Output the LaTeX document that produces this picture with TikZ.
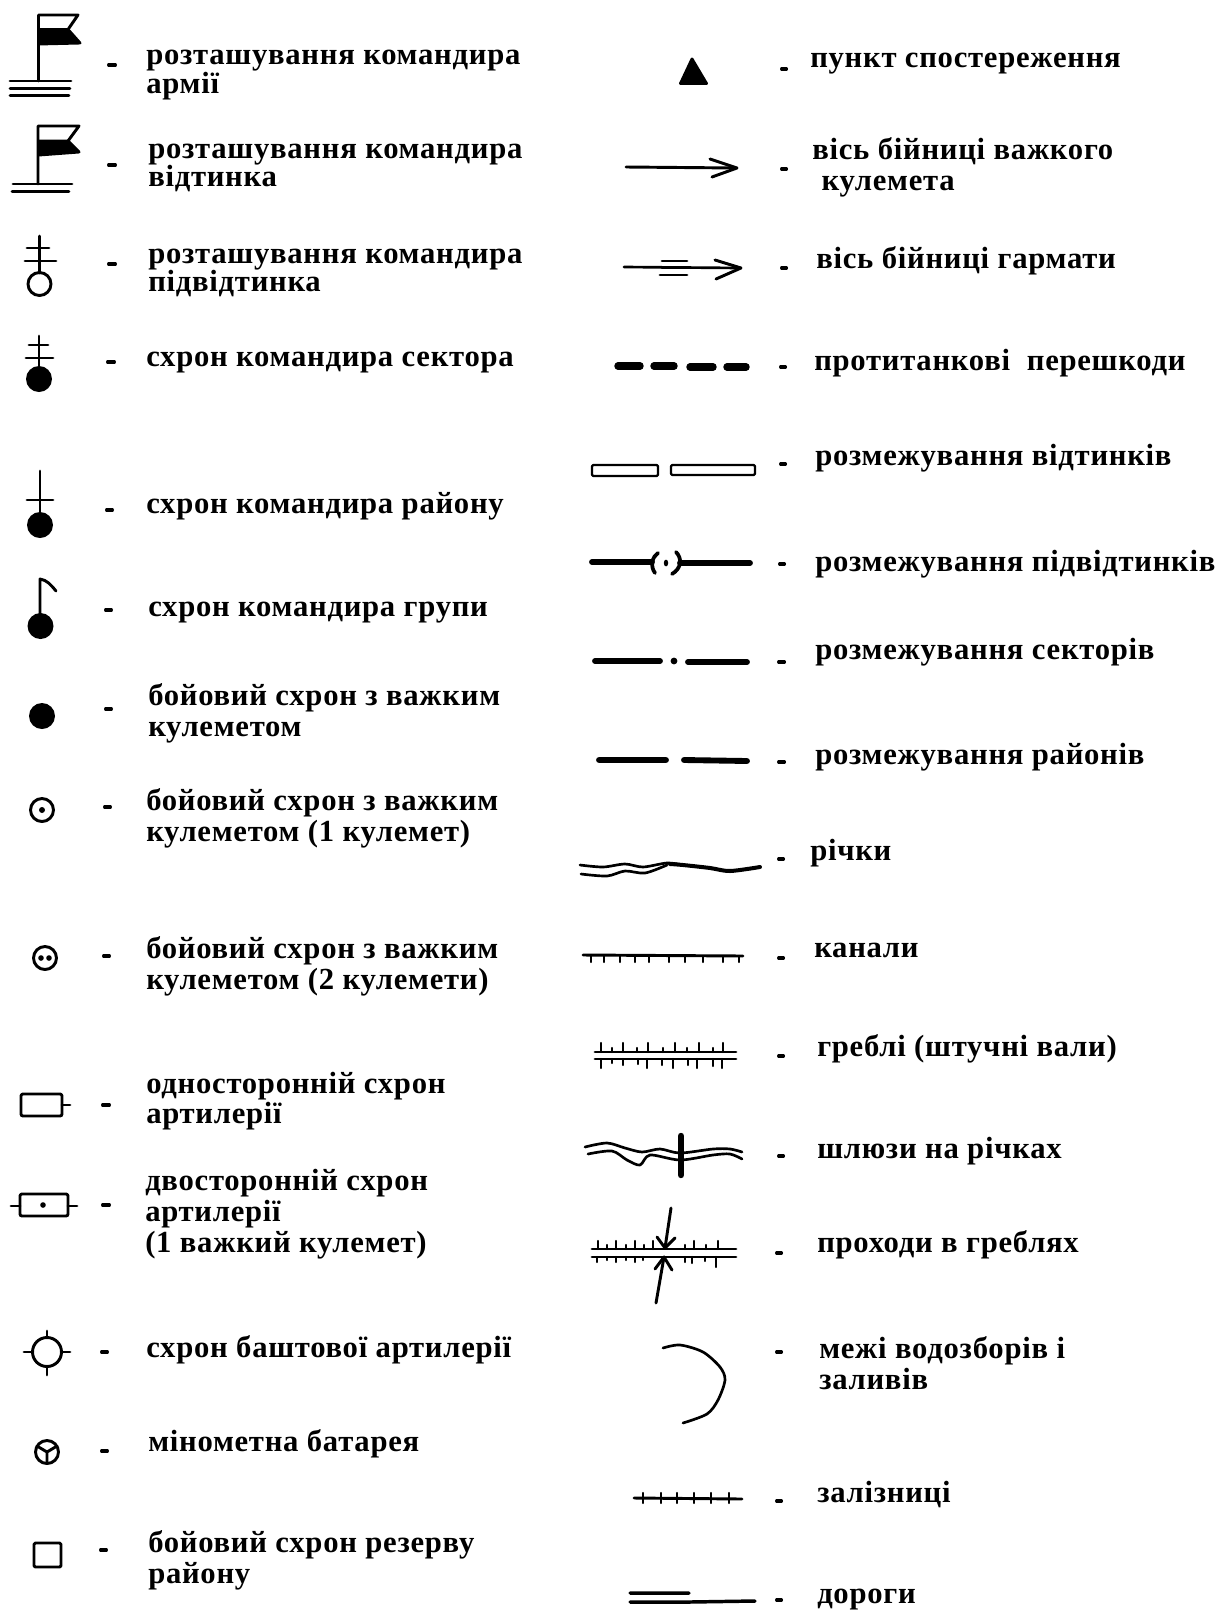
\documentclass[tikz,border=0pt]{standalone}
\usepackage{fontspec}
\setmainfont[LetterSpace=2.4]{Liberation Serif}
\usetikzlibrary{arrows.meta}

\begin{document}
\begin{tikzpicture}[
  x=0.75pt, y=-0.75pt,
  lbl/.style={anchor=west, align=left, inner sep=0pt, font=\bfseries\fontsize{23}{21.6}\selectfont},
  lblwide/.style={lbl, font=\bfseries\fontsize{23}{23}\selectfont},
  sym/.style={line width=2.2pt, line cap=round, line join=round},
  thinsym/.style={line width=1.7pt, line cap=round, line join=round},
  heavy/.style={line width=4.4pt, line cap=round},
  dsh/.style={line width=2.3pt, line cap=round, shorten >=0.4pt, shorten <=0.4pt}
]
\useasboundingbox (0,0) rectangle (1218,1610);

\node[lbl] (army) at (146,75) {розташування командира\\армії};
\node[lbl] (section) at (148,168) {розташування командира\\відтинка};
\node[lbl] (subsection) at (148,273) {розташування командира\\підвідтинка};
\node[lbl] (sector) at (146,363) {схрон командира сектора};
\node[lbl] (district) at (146,506) {схрон командира району};
\node[lbl] (squad) at (148,613) {схрон командира групи};
\node[lblwide] (mg) at (148,713) {бойовий схрон з важким\\кулеметом};
\node[lblwide] (mgone) at (146,818) {бойовий схрон з важким\\кулеметом (1 кулемет)};
\node[lblwide] (mgtwo) at (146,966) {бойовий схрон з важким\\кулеметом (2 кулемети)};
\node[lblwide] (artone) at (146,1101) {односторонній схрон\\артилерії};
\node[lblwide] (arttwo) at (145,1214) {двосторонній схрон\\артилерії\\(1 важкий кулемет)};
\node[lbl] (turret) at (146,1350) {схрон баштової артилерії};
\node[lbl] (mortar) at (148,1444) {мінометна батарея};
\node[lblwide] (reserve) at (148,1560) {бойовий схрон резерву\\району};

\node[lbl] (post) at (810,64) {пункт спостереження};
\node[lblwide] (hmgaxis) at (812,167) {вісь бійниці важкого\\\hspace*{7pt}кулемета};
\node[lbl] (gunaxis) at (816,261) {вісь бійниці гармати};
\node[lbl] (antitank) at (814,363) {протитанкові\ \ перешкоди};
\node[lbl] (bsection) at (815,458) {розмежування відтинків};
\node[lbl] (bsubsection) at (815,564) {розмежування підвідтинків};
\node[lbl] (bsector) at (815,652) {розмежування секторів};
\node[lbl] (bdistrict) at (815,757) {розмежування районів};
\node[lbl] (rivers) at (810,853) {річки};
\node[lbl] (canals) at (814,950) {канали};
\node[lbl] (dams) at (817,1049) {греблі (штучні вали)};
\node[lbl] (locks) at (817,1151) {шлюзи на річках};
\node[lbl] (passes) at (817,1245) {проходи в греблях};
\node[lblwide] (basins) at (819,1363) {межі водозборів і\\заливів};
\node[lbl] (rail) at (817,1495) {залізниці};
\node[lbl] (roads) at (817,1600) {дороги};

\foreach \xa/\xb/\ya in {108/116/65, 108/116/165, 108/116/264, 107/115/362, 106/113/510, 105/112/610,
  105/112/709, 104/111/807, 103/110/956, 102/110/1105, 102/110/1205, 101/108/1352, 101/108/1451, 100/107/1550,
  781/787/69, 781/787/169, 781/787/268, 780/786/367, 780/786/464, 779/785/564, 778/785/662, 778/785/762,
  778/784/859, 778/784/958, 778/784/1056, 778/784/1156, 776/782/1253, 776/782/1352, 776/782/1501, 776/782/1600}
  \draw[dsh] (\xa,\ya) -- (\xb,\ya);

\draw[sym] (38.5,81) -- (38.5,15) -- (78,15) -- (68,29.5);
\fill[sym, draw=black] (39,29.5) -- (68,29.5) -- (80,43) -- (39,44) -- cycle;
\draw[sym] (10,81) -- (71,81) (10,88.5) -- (70,88.5) (10,95.5) -- (69,95.5);

\draw[sym] (38,184) -- (38,126) -- (79,126) -- (68,141);
\fill[sym, draw=black] (39,141) -- (68,141) -- (79,152) -- (39,155) -- cycle;
\draw[sym] (13,184) -- (72,184) (12,191.5) -- (69,191.5);

\draw[sym] (39.5,236) -- (39.5,273) (27,248) -- (49,248) (25,261) -- (56,261);
\draw[sym] (39.5,284) circle [radius=11.5];

\draw[sym] (39,336) -- (39,370) (29,345) -- (48,345) (26,358) -- (53,358);
\fill (39,379) circle [radius=13];

\draw[sym] (40,471) -- (40,518) (27,500) -- (53,500);
\fill (40,525) circle [radius=13];

\draw[sym] (40,619) -- (40,579) .. controls (47,580) and (51,585) .. (56,591);
\fill (40.5,626) circle [radius=13];

\fill (42,716) circle [radius=13];

\draw[sym] (42,810) circle [radius=11.5];
\fill (42,810) circle [radius=3];

\draw[sym] (45,958) circle [radius=11.5];
\fill (41,958) circle [radius=2.8] (49,958) circle [radius=2.8];

\draw[sym, rounded corners=1.5pt] (21,1094) rectangle (62,1116);
\draw[sym] (62,1105) -- (70,1105);

\draw[sym, rounded corners=1.5pt] (20,1194) rectangle (68,1216);
\draw[sym] (11,1206) -- (20,1206) (68,1206) -- (77,1206);
\fill (43,1205) circle [radius=2.8];

\draw[sym] (47,1352) circle [radius=14.5];
\draw[sym] (24,1352) -- (32,1352) (62,1352) -- (70,1352) (47,1331) -- (47,1337) (47,1367) -- (47,1375);

\draw[sym] (47,1452) circle [radius=11.5];
\draw[sym] (47,1452) -- (47,1463.5) (47,1452) -- (37,1446) (47,1452) -- (57,1446);

\draw[sym, rounded corners=1pt] (34,1543) rectangle (61,1567);

\fill[draw=black, sym] (692,59) -- (680.5,83.5) -- (706.5,83.5) -- cycle;

\draw[sym] (626,167) -- (736,168);
\draw[sym] (710,159) -- (737,168) -- (712,177);

\draw[sym, line width=2pt] (624,267) -- (740,268);
\draw[sym] (715,260) -- (741,268) -- (716,279);
\draw[sym] (662,261) -- (687,261) (662,268) -- (687,268) (660,275) -- (687,275);

\draw[heavy, line width=5.6pt] (618,366) -- (640,366) (654,366) -- (674,366) (690,367) -- (713,367) (727,367) -- (746,367);

\draw[thinsym, rounded corners=1pt] (592,465) rectangle (658,476);
\draw[thinsym, rounded corners=1pt] (671,465) rectangle (755,475);

\draw[heavy] (592,562) -- (652,562) (680,563) -- (750,563);
\draw[sym, line width=2.8pt] (658,553) .. controls (652,557) and (650,566) .. (655,573);
\draw[sym, line width=2.8pt] (676,552) .. controls (682,558) and (682,568) .. (672,574);
\fill (666,563) ellipse [x radius=2.2, y radius=3.4];

\draw[heavy] (595,661) -- (660,661) (688,662) -- (747,662);
\fill (674,661) circle [radius=3.4];

\draw[heavy] (599,760) -- (666,760) (684,760) -- (747,761);

\draw[thinsym, line width=2pt] plot[smooth] coordinates {(580,865) (603,867) (625,864) (643,867) (667,863) (683,865)};
\draw[thinsym, line width=3pt] plot[smooth] coordinates {(670,864) (683,865) (710,868) (730,871) (760,867)};
\draw[thinsym, line width=2pt] plot[smooth] coordinates {(581,874) (607,876) (625,871) (645,873) (667,865)};

\draw[sym] (583,955) -- (743,956);
\foreach \xa in {591,604,620,635,649,669,685,703,723,739}
  \draw[thinsym] (\xa,956) -- (\xa,962);

\draw[sym] (595,1052) -- (736,1052) (595,1059) -- (736,1059);
\foreach \xa in {601,623,648,675,699,723}
  \draw[thinsym] (\xa,1052) -- (\xa,1043);
\foreach \xa in {612,637,663,687,713}
  \draw[thinsym] (\xa,1052) -- (\xa,1048);
\foreach \xa/\ya in {601/1068, 612/1063, 623/1065, 638/1064, 647/1068, 662/1065, 673/1068, 688/1065, 697/1068, 713/1066, 722/1068}
  \draw[thinsym] (\xa,1059) -- (\xa,\ya);

\draw[thinsym, line width=2pt] plot[smooth] coordinates {(585,1147) (607,1143) (625,1148) (642,1152) (660,1149) (680,1153) (713,1149) (730,1149) (742,1152)};
\draw[thinsym, line width=2pt] plot[smooth] coordinates {(588,1154) (612,1151) (627,1160) (640,1165) (650,1155) (680,1160) (713,1155) (730,1154) (742,1159)};
\draw[line width=4.8pt, line cap=round] (681,1136) -- (681,1175);

\draw[sym] (592,1249) -- (736,1249) (592,1257) -- (736,1257);
\foreach \xa in {598,616,635,653,694,718}
  \draw[thinsym] (\xa,1249) -- (\xa,1241);
\foreach \xa in {607,626,644,685,706}
  \draw[thinsym] (\xa,1249) -- (\xa,1245);
\foreach \xa/\ya in {597/1262, 607/1260, 616/1262, 626/1260, 635/1262, 643/1260, 685/1262, 692/1263, 705/1261, 716/1267}
  \draw[thinsym] (\xa,1257) -- (\xa,\ya);
\draw[sym] (671,1208) -- (665,1248);
\draw[sym] (657,1237) -- (665,1248) -- (675,1238);
\draw[sym] (656,1303) -- (664,1257);
\draw[sym] (655,1269) -- (664,1257) -- (672,1270);

\draw[thinsym, line width=2pt] plot[smooth] coordinates {(663,1348) (680,1345) (703,1352) (720,1367) (725,1380) (718,1400) (707,1414) (683,1423)};

\draw[sym] (634,1498) -- (742,1499);
\foreach \xa in {643,661,677,694,711,729}
  \draw[sym, line width=1.8pt] (\xa,1493) -- (\xa,1503);

\draw[sym, line width=2.6pt] (630,1593) -- (689,1593) (630,1602) -- (690,1602) -- (755,1601);
\end{tikzpicture}
\end{document}
